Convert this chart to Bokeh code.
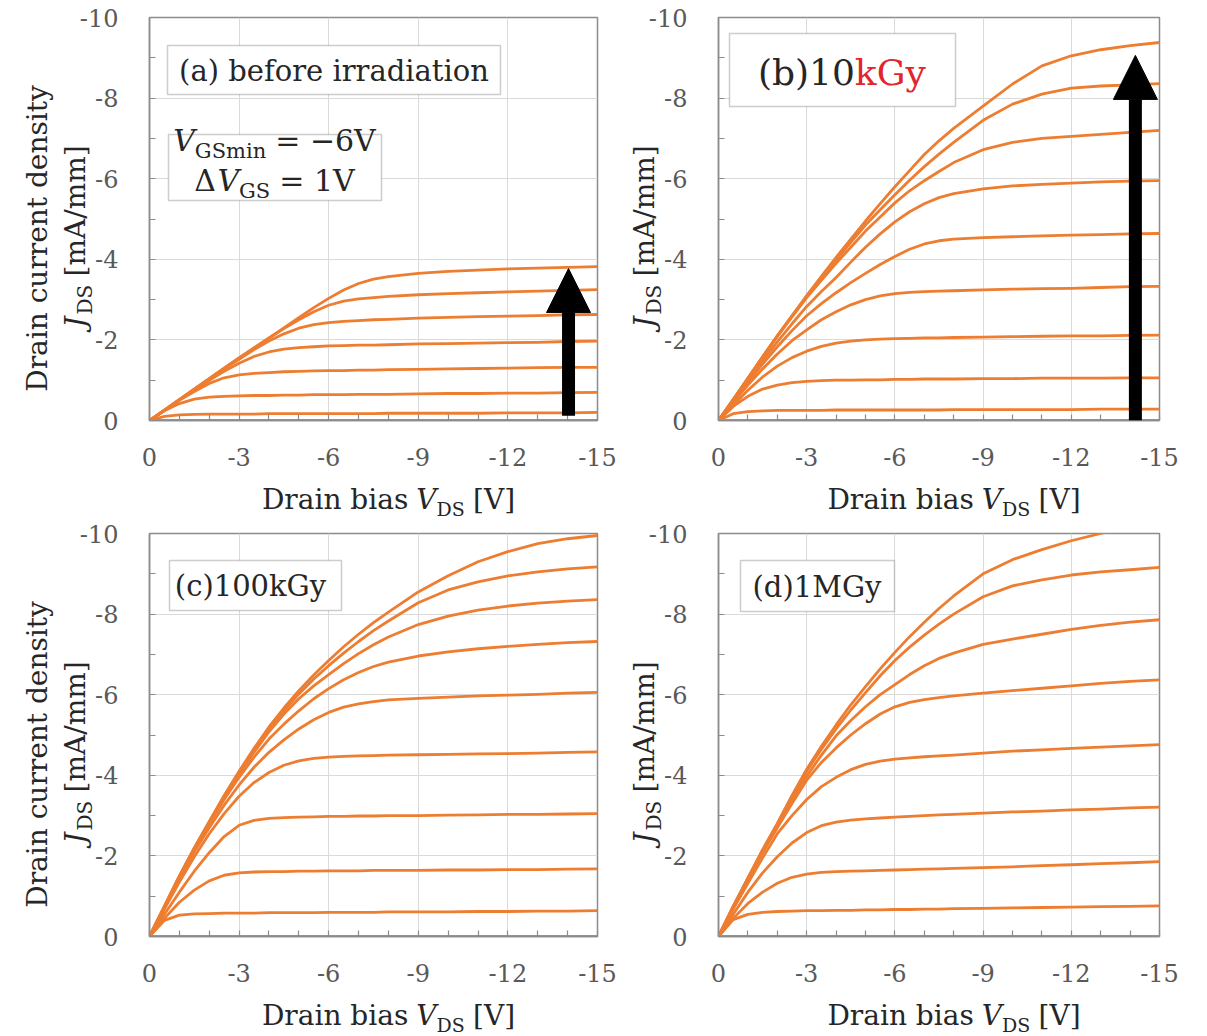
import math
from bokeh.plotting import figure
from bokeh.layouts import column, row
from bokeh.models import (Range1d, FixedTicker, BoxAnnotation, Arrow, NormalHead,
                          CustomJSTickFormatter)
from bokeh.core.properties import value
from bokeh.embed import file_html
from bokeh.resources import INLINE

# ---------------------------------------------------------------- data
# drain bias sweep [V]
VDS = [0, -0.5, -1, -1.5, -2, -2.5, -3, -3.5, -4, -4.5, -5, -5.5, -6, -6.5, -7, -7.5, -8,
       -9, -10, -11, -12, -13, -14, -15]

# drain current density [mA/mm], one list per gate step, lowest |J| first
JDS_A = [
    [0, 0, 0, 0, 0, 0, 0, 0, 0, 0, 0, 0, 0, 0, 0, 0, 0, 0, 0, 0, 0, 0, 0, 0],
    [0, -0.10, -0.14, -0.15, -0.16, -0.16, -0.16, -0.16, -0.17, -0.17, -0.17, -0.17, -0.17, -0.17, -0.17, -0.17, -0.18, -0.18, -0.18, -0.18, -0.19, -0.19, -0.19, -0.20],
    [0, -0.24, -0.42, -0.53, -0.58, -0.60, -0.61, -0.62, -0.62, -0.63, -0.63, -0.64, -0.64, -0.64, -0.65, -0.65, -0.65, -0.66, -0.67, -0.67, -0.68, -0.68, -0.69, -0.70],
    [0, -0.25, -0.50, -0.72, -0.92, -1.06, -1.13, -1.17, -1.19, -1.21, -1.22, -1.23, -1.24, -1.24, -1.25, -1.25, -1.26, -1.27, -1.28, -1.29, -1.30, -1.31, -1.32, -1.32],
    [0, -0.26, -0.51, -0.76, -1.00, -1.22, -1.42, -1.59, -1.70, -1.77, -1.81, -1.83, -1.85, -1.86, -1.87, -1.87, -1.88, -1.90, -1.91, -1.92, -1.93, -1.94, -1.96, -1.97],
    [0, -0.26, -0.52, -0.78, -1.03, -1.28, -1.52, -1.76, -1.97, -2.15, -2.29, -2.38, -2.43, -2.46, -2.48, -2.50, -2.51, -2.54, -2.56, -2.58, -2.59, -2.60, -2.62, -2.63],
    [0, -0.26, -0.52, -0.78, -1.04, -1.30, -1.55, -1.80, -2.04, -2.28, -2.50, -2.70, -2.86, -2.96, -3.02, -3.05, -3.08, -3.12, -3.15, -3.17, -3.19, -3.21, -3.23, -3.25],
    [0, -0.26, -0.52, -0.78, -1.04, -1.30, -1.55, -1.80, -2.05, -2.30, -2.55, -2.80, -3.03, -3.24, -3.40, -3.51, -3.57, -3.65, -3.70, -3.73, -3.76, -3.78, -3.80, -3.82],
]

JDS_B = [
    [0, 0, 0, 0, 0, 0, 0, 0, 0, 0, 0, 0, 0, 0, 0, 0, 0, 0, 0, 0, 0, 0, 0, 0],
    [0, -0.17, -0.22, -0.24, -0.25, -0.25, -0.25, -0.25, -0.26, -0.26, -0.26, -0.26, -0.26, -0.26, -0.26, -0.26, -0.27, -0.27, -0.27, -0.27, -0.27, -0.28, -0.28, -0.28],
    [0, -0.35, -0.60, -0.78, -0.88, -0.94, -0.97, -0.99, -1.00, -1.00, -1.01, -1.01, -1.02, -1.02, -1.03, -1.03, -1.03, -1.04, -1.04, -1.05, -1.05, -1.05, -1.06, -1.06],
    [0, -0.38, -0.75, -1.08, -1.35, -1.56, -1.72, -1.84, -1.92, -1.97, -2.00, -2.02, -2.03, -2.04, -2.05, -2.05, -2.06, -2.07, -2.08, -2.09, -2.10, -2.10, -2.11, -2.12],
    [0, -0.45, -0.88, -1.28, -1.65, -1.98, -2.25, -2.50, -2.70, -2.87, -3.00, -3.09, -3.15, -3.18, -3.20, -3.21, -3.22, -3.24, -3.26, -3.27, -3.28, -3.30, -3.32, -3.33],
    [0, -0.48, -0.95, -1.40, -1.83, -2.23, -2.60, -2.90, -3.17, -3.42, -3.65, -3.87, -4.07, -4.25, -4.38, -4.46, -4.50, -4.54, -4.56, -4.58, -4.60, -4.61, -4.63, -4.64],
    [0, -0.50, -1.00, -1.48, -1.95, -2.40, -2.83, -3.20, -3.55, -3.93, -4.30, -4.63, -4.93, -5.18, -5.38, -5.53, -5.63, -5.75, -5.82, -5.86, -5.89, -5.92, -5.94, -5.95],
    [0, -0.52, -1.05, -1.57, -2.08, -2.57, -3.05, -3.48, -3.90, -4.30, -4.70, -5.05, -5.40, -5.70, -5.95, -6.18, -6.40, -6.72, -6.90, -7.00, -7.05, -7.10, -7.15, -7.20],
    [0, -0.52, -1.05, -1.58, -2.10, -2.60, -3.08, -3.54, -3.98, -4.42, -4.85, -5.23, -5.60, -5.96, -6.30, -6.61, -6.90, -7.45, -7.85, -8.10, -8.25, -8.30, -8.33, -8.36],
    [0, -0.52, -1.05, -1.58, -2.10, -2.60, -3.10, -3.58, -4.05, -4.50, -4.95, -5.38, -5.80, -6.20, -6.60, -6.94, -7.25, -7.80, -8.35, -8.80, -9.05, -9.20, -9.30, -9.38],
]

JDS_C = [
    [0, 0, 0, 0, 0, 0, 0, 0, 0, 0, 0, 0, 0, 0, 0, 0, 0, 0, 0, 0, 0, 0, 0, 0],
    [0, -0.40, -0.53, -0.56, -0.57, -0.58, -0.58, -0.58, -0.59, -0.59, -0.59, -0.59, -0.60, -0.60, -0.60, -0.60, -0.61, -0.61, -0.61, -0.62, -0.62, -0.63, -0.63, -0.64],
    [0, -0.45, -0.85, -1.15, -1.38, -1.52, -1.58, -1.60, -1.61, -1.61, -1.62, -1.62, -1.63, -1.63, -1.63, -1.64, -1.64, -1.64, -1.65, -1.65, -1.66, -1.66, -1.67, -1.68],
    [0, -0.55, -1.10, -1.62, -2.08, -2.48, -2.76, -2.88, -2.93, -2.95, -2.96, -2.97, -2.98, -2.98, -2.99, -2.99, -3.00, -3.00, -3.01, -3.02, -3.03, -3.03, -3.04, -3.05],
    [0, -0.68, -1.35, -1.98, -2.55, -3.05, -3.48, -3.82, -4.07, -4.25, -4.36, -4.42, -4.45, -4.47, -4.48, -4.49, -4.50, -4.51, -4.52, -4.53, -4.54, -4.55, -4.57, -4.58],
    [0, -0.72, -1.44, -2.10, -2.70, -3.26, -3.76, -4.20, -4.57, -4.88, -5.15, -5.38, -5.56, -5.69, -5.77, -5.83, -5.87, -5.91, -5.94, -5.97, -5.99, -6.01, -6.04, -6.06],
    [0, -0.74, -1.48, -2.16, -2.80, -3.40, -3.95, -4.45, -4.90, -5.27, -5.60, -5.90, -6.15, -6.37, -6.55, -6.70, -6.81, -6.96, -7.06, -7.14, -7.20, -7.25, -7.29, -7.32],
    [0, -0.75, -1.49, -2.18, -2.83, -3.45, -4.03, -4.57, -5.08, -5.52, -5.90, -6.22, -6.50, -6.77, -7.02, -7.24, -7.43, -7.74, -7.95, -8.10, -8.20, -8.27, -8.32, -8.36],
    [0, -0.75, -1.50, -2.20, -2.85, -3.48, -4.08, -4.63, -5.15, -5.60, -6.02, -6.39, -6.72, -7.03, -7.32, -7.59, -7.83, -8.28, -8.60, -8.80, -8.95, -9.05, -9.12, -9.17],
    [0, -0.75, -1.50, -2.20, -2.85, -3.50, -4.10, -4.67, -5.20, -5.67, -6.10, -6.49, -6.85, -7.19, -7.50, -7.79, -8.05, -8.55, -8.95, -9.30, -9.55, -9.75, -9.87, -9.95],
]

JDS_D = [
    [0, 0, 0, 0, 0, 0, 0, 0, 0, 0, 0, 0, 0, 0, 0, 0, 0, 0, 0, 0, 0, 0, 0, 0],
    [0, -0.42, -0.55, -0.60, -0.62, -0.63, -0.64, -0.64, -0.65, -0.65, -0.66, -0.66, -0.67, -0.67, -0.68, -0.68, -0.69, -0.70, -0.71, -0.72, -0.73, -0.74, -0.75, -0.76],
    [0, -0.45, -0.82, -1.10, -1.32, -1.47, -1.55, -1.59, -1.61, -1.62, -1.63, -1.64, -1.65, -1.66, -1.67, -1.68, -1.69, -1.71, -1.73, -1.76, -1.78, -1.81, -1.83, -1.86],
    [0, -0.55, -1.10, -1.58, -1.98, -2.32, -2.58, -2.75, -2.84, -2.89, -2.92, -2.94, -2.96, -2.98, -3.00, -3.02, -3.03, -3.06, -3.09, -3.11, -3.14, -3.16, -3.19, -3.21],
    [0, -0.68, -1.32, -1.95, -2.55, -3.00, -3.40, -3.72, -3.95, -4.14, -4.27, -4.35, -4.40, -4.43, -4.46, -4.48, -4.50, -4.55, -4.60, -4.63, -4.67, -4.70, -4.73, -4.76],
    [0, -0.73, -1.42, -2.08, -2.70, -3.30, -3.88, -4.32, -4.68, -5.00, -5.28, -5.52, -5.70, -5.81, -5.88, -5.93, -5.97, -6.04, -6.10, -6.16, -6.22, -6.28, -6.33, -6.37],
    [0, -0.74, -1.44, -2.12, -2.76, -3.40, -3.98, -4.50, -4.98, -5.36, -5.70, -6.00, -6.25, -6.50, -6.72, -6.90, -7.03, -7.25, -7.38, -7.50, -7.62, -7.72, -7.80, -7.86],
    [0, -0.75, -1.45, -2.15, -2.80, -3.48, -4.10, -4.65, -5.15, -5.62, -6.05, -6.47, -6.85, -7.18, -7.48, -7.75, -8.00, -8.43, -8.70, -8.85, -8.97, -9.05, -9.10, -9.16],
    [0, -0.75, -1.45, -2.15, -2.80, -3.50, -4.15, -4.72, -5.25, -5.75, -6.20, -6.64, -7.05, -7.44, -7.80, -8.14, -8.45, -9.00, -9.35, -9.60, -9.82, -10.00, -10.15, -10.30],
]

for _panel in (JDS_A, JDS_B, JDS_C, JDS_D):
    for _curve in _panel:
        assert len(_curve) == len(VDS), len(_curve)

X_TICKS = [0, -3, -6, -9, -12, -15]
X_MINOR = [-1, -2, -4, -5, -7, -8, -10, -11, -13, -14]
Y_TICKS = [0, -2, -4, -6, -8, -10]
Y_MINOR = [-1, -3, -5, -7, -9]

PANEL_TITLES = ["(a) before irradiation", "(b)10", "kGy", "(c)100kGy", "(d)1MGy"]

# ---------------------------------------------------------------- style
FONT = "DejaVu Serif"
ORANGE = "#ED7D31"
FRAME = "#8c8c8c"
GRID = "#dadada"
INK = "#262626"
TICK_INK = "#595959"
FH = 403  # frame height in px

# approximate advance widths (em) used to lay out mixed-size text runs
EM = {' ': .318, '(': .390, ')': .390, '[': .390, ']': .390, '/': .337, '-': .338,
      '=': .838, '\u2212': .838, 'A': .722, 'D': .770, 'G': .775, 'J': .472, 'M': .915,
      'S': .685, 'V': .722, '\u0394': .770, 'a': .596, 'b': .640, 'c': .560, 'd': .640,
      'e': .592, 'f': .370, 'i': .320, 'k': .609, 'm': .948, 'n': .644, 'o': .602,
      'r': .478, 's': .513, 't': .402, 'y': .565}
for _d in "0123456789":
    EM[_d] = .636


def text_width(s, size):
    return sum(EM.get(ch, .6) for ch in s) * size


def panel(width, height, left, right, top, bottom, curves):
    p = figure(width=width, height=height, x_range=Range1d(0, -15), y_range=Range1d(0, -10),
               output_backend="svg", toolbar_location=None,
               min_border_left=left, min_border_right=right,
               min_border_top=top, min_border_bottom=bottom,
               background_fill_color="white", border_fill_color="white")
    for j in curves:
        p.line(VDS, j, line_color=ORANGE, line_width=2.8, line_join="round")
    p.xaxis.ticker = FixedTicker(ticks=X_TICKS, minor_ticks=X_MINOR)
    p.yaxis.ticker = FixedTicker(ticks=Y_TICKS, minor_ticks=Y_MINOR)
    for ax in (p.xaxis[0], p.yaxis[0]):
        ax.axis_label = None
        ax.formatter = CustomJSTickFormatter(code="return tick.toFixed(0)")
        ax.axis_line_color = FRAME
        ax.axis_line_width = 1.5
        ax.major_tick_in = 6
        ax.major_tick_out = 0
        ax.minor_tick_in = 6
        ax.minor_tick_out = 0
        ax.major_tick_line_color = FRAME
        ax.minor_tick_line_color = FRAME
        ax.major_tick_line_width = 1.2
        ax.minor_tick_line_width = 1.2
        ax.major_label_text_font = FONT
        ax.major_label_text_font_size = "24px"
        ax.major_label_text_color = TICK_INK
    p.xaxis.major_label_standoff = 27
    p.yaxis.major_label_standoff = 31
    p.xgrid.grid_line_color = GRID
    p.ygrid.grid_line_color = GRID
    p.outline_line_color = FRAME
    p.outline_line_width = 1.5
    p.outline_line_alpha = 1.0
    return p


def to_data(fw, x, y):
    # x px right of the frame's left edge, y px above its bottom edge
    return -x * 15.0 / fw, -y * 10.0 / FH


def put(p, fw, text, x, y, size, style="normal", color=INK, align="left", angle=0.0):
    """Text drawn above the frame clip so it can sit in the borders too."""
    dx, dy = to_data(fw, x, y)
    p.text(x=[dx], y=[dy], text=[text], text_font=value(FONT),
           text_font_size=value(f"{size}px"), text_font_style=style, text_color=color,
           text_align=align, text_baseline="middle", angle=angle, level="overlay")


def run(p, fw, pieces, center, mid, vertical=False):
    """Lay out (text, size, style, subscript drop) pieces as one run centred on `center`."""
    total = sum(text_width(t, s) for t, s, _, _ in pieces)
    pos = center - total / 2.0
    for t, s, style, drop in pieces:
        lead = len(t) - len(t.lstrip())
        start = pos + text_width(t[:lead], s)
        if vertical:
            put(p, fw, t.strip(), mid + drop, start, s, style, angle=math.pi / 2)
        else:
            put(p, fw, t.strip(), start, mid - drop, s, style)
        pos += text_width(t, s)


def box(p, fw, x0, x1, y0, y1):
    left, top = to_data(fw, x0, y0)
    right, bottom = to_data(fw, x1, y1)
    p.add_layout(BoxAnnotation(left=left, right=right, top=top, bottom=bottom,
                               fill_color="white", fill_alpha=1.0,
                               line_color="#5a5a5a", line_width=1.5))


def axis_texts(p, fw, two_line):
    run(p, fw, [("Drain bias ", 28, "normal", 0), ("V", 28, "italic", 0),
                ("DS", 19, "normal", 9), (" [V]", 28, "normal", 0)],
        center=fw / 2 + 15, mid=-79)
    run(p, fw, [("J", 28, "italic", 0), ("DS", 20, "normal", 9),
                (" [mA/mm]", 28, "normal", 0)],
        center=184, mid=-74, vertical=True)
    if two_line:
        run(p, fw, [("Drain current density", 28, "normal", 0)],
            center=181, mid=-112, vertical=True)


def arrow(p, x, y0, y1):
    p.add_layout(Arrow(end=NormalHead(size=44, fill_color="black", line_color="black"),
                       x_start=x, y_start=y0, x_end=x, y_end=y1,
                       line_color="black", line_width=13))


# ---------------------------------------------------------------- panels
FW_L, FW_R = 448, 441

pa = panel(622, 519, 149, 25, 17, 99, JDS_A)
axis_texts(pa, FW_L, True)
box(pa, FW_L, 18, 351, 375, 326)
put(pa, FW_L, PANEL_TITLES[0], 184.5, 350, 29, align="center")
box(pa, FW_L, 19, 232, 286, 220)
run(pa, FW_L, [("V", 30, "italic", 0), ("GSmin", 21, "normal", 10),
               (" = \u22126V", 30, "normal", 0)], center=125, mid=280)
run(pa, FW_L, [("\u0394", 30, "normal", 0), ("V", 30, "italic", 0),
               ("GS", 21, "normal", 10), (" = 1V", 30, "normal", 0)], center=125, mid=240)
arrow(pa, -14.03, -0.12, -3.77)

pb = panel(585, 519, 96, 48, 17, 99, JDS_B)
axis_texts(pb, FW_R, False)
box(pb, FW_R, 11, 237, 387, 314)
wb1 = text_width(PANEL_TITLES[1], 36)
wb2 = text_width(PANEL_TITLES[2], 36)
xb = 123 - (wb1 + wb2) / 2
put(pb, FW_R, PANEL_TITLES[1], xb, 348, 36)
put(pb, FW_R, PANEL_TITLES[2], xb + wb1, 348, 36, color="#e3242b")
arrow(pb, -14.18, 0.0, -9.06)

pc = panel(622, 517, 149, 25, 14, 100, JDS_C)
axis_texts(pc, FW_L, True)
box(pc, FW_L, 20, 192, 376, 326)
put(pc, FW_L, PANEL_TITLES[3], 101, 351, 29, align="center")

pd = panel(585, 517, 96, 48, 14, 100, JDS_D)
axis_texts(pd, FW_R, False)
box(pd, FW_R, 22, 176, 376, 325)
put(pd, FW_R, PANEL_TITLES[4], 98.5, 350, 29, align="center")

layout = column(row(pa, pb), row(pc, pd))

open("out.html", "w").write(file_html(layout, INLINE))
